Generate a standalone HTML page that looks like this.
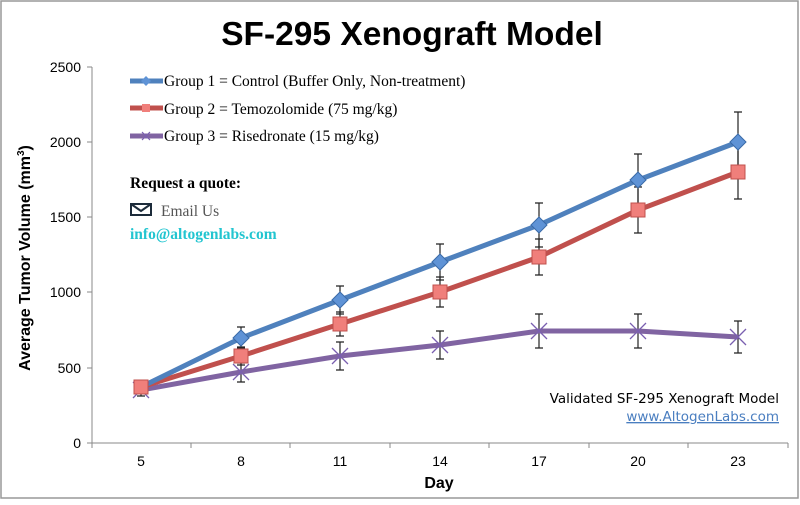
<!DOCTYPE html>
<html><head><style>body{margin:0;background:#fff}</style></head><body>
<svg width="800" height="500" viewBox="0 0 800 500" xmlns="http://www.w3.org/2000/svg">
<rect x="1" y="1" width="797" height="497" fill="#fff" stroke="#999" stroke-width="1.5"/>
<text x="412" y="45" text-anchor="middle" font-family="Liberation Sans, sans-serif" font-weight="bold" font-size="33.5">SF-295 Xenograft Model</text>
<g stroke="#888" stroke-width="1" fill="none">
<line x1="92" y1="67" x2="92" y2="443"/>
<line x1="92" y1="443" x2="788" y2="443"/>
<line x1="87" y1="67" x2="92" y2="67"/><line x1="87" y1="142" x2="92" y2="142"/><line x1="87" y1="217" x2="92" y2="217"/><line x1="87" y1="292" x2="92" y2="292"/><line x1="87" y1="368" x2="92" y2="368"/><line x1="87" y1="443" x2="92" y2="443"/>
<line x1="92" y1="443" x2="92" y2="448"/><line x1="191" y1="443" x2="191" y2="448"/><line x1="290" y1="443" x2="290" y2="448"/><line x1="390" y1="443" x2="390" y2="448"/><line x1="489" y1="443" x2="489" y2="448"/><line x1="589" y1="443" x2="589" y2="448"/><line x1="688" y1="443" x2="688" y2="448"/><line x1="788" y1="443" x2="788" y2="448"/>
</g>
<g font-family="Liberation Sans, sans-serif" font-size="14" text-anchor="end" fill="#000">
<text x="81" y="72">2500</text><text x="81" y="147">2000</text><text x="81" y="222">1500</text><text x="81" y="297">1000</text><text x="81" y="373">500</text><text x="81" y="448">0</text>
</g>
<g font-family="Liberation Sans, sans-serif" font-size="14" text-anchor="middle">
<text x="141" y="466">5</text><text x="241" y="466">8</text><text x="340" y="466">11</text><text x="440" y="466">14</text><text x="539" y="466">17</text><text x="638" y="466">20</text><text x="738" y="466">23</text>
</g>
<text x="439" y="488" text-anchor="middle" font-family="Liberation Sans, sans-serif" font-weight="bold" font-size="16">Day</text>
<text transform="translate(30,258) rotate(-90)" text-anchor="middle" font-family="Liberation Sans, sans-serif" font-weight="bold" font-size="16">Average Tumor Volume (mm<tspan font-size="10" dy="-6">3</tspan><tspan dy="6">)</tspan></text>
<g stroke="#222" stroke-width="1.2" fill="none">
<!-- blue -->
<path d="M241 327V348M237 327h8M237 348h8"/>
<path d="M340 286V314M336 286h8M336 314h8"/>
<path d="M440 244V280M436 244h8M436 280h8"/>
<path d="M539 203V247M535 203h8M535 247h8"/>
<path d="M638 154V206M634 154h8M634 206h8"/>
<path d="M738 112V172M734 112h8M734 172h8"/>
<!-- red -->
<path d="M141 383V392M137 383h8M137 392h8"/>
<path d="M241 347V365M237 347h8M237 365h8"/>
<path d="M340 312V336M336 312h8M336 336h8"/>
<path d="M440 277V307M436 277h8M436 307h8"/>
<path d="M539 239V275M535 239h8M535 275h8"/>
<path d="M638 187V233M634 187h8M634 233h8"/>
<path d="M738 145V199M734 145h8M734 199h8"/>
<!-- purple -->
<path d="M141 384V396M137 384h8M137 396h8"/>
<path d="M241 363V382M237 363h8M237 382h8"/>
<path d="M340 342V370M336 342h8M336 370h8"/>
<path d="M440 331V359M436 331h8M436 359h8"/>
<path d="M539 314V348M535 314h8M535 348h8"/>
<path d="M638 314V348M634 314h8M634 348h8"/>
<path d="M738 321V353M734 321h8M734 353h8"/>
</g>
<polyline fill="none" stroke="#8064a2" stroke-width="5" points="141,390 241,372 340,356 440,345 539,331 638,331 738,337"/>
<polyline fill="none" stroke="#c0504d" stroke-width="5" points="141,387 241,356 340,324 440,292 539,257 638,210 738,172"/>
<polyline fill="none" stroke="#4f81bd" stroke-width="5" points="141,387 241,338 340,300 440,262 539,225 638,180 738,142"/>
<g stroke="#7a5fb0" stroke-width="1.3">
<path d="M133 382l16 16M149 382l-16 16M233 364l16 16M249 364l-16 16M332 348l16 16M348 348l-16 16M432 337l16 16M448 337l-16 16M531 323l16 16M547 323l-16 16M630 323l16 16M646 323l-16 16M730 329l16 16M746 329l-16 16"/>
</g>
<g fill="#f07f7b" stroke="#c0504d" stroke-width="1">
<rect x="134" y="380" width="14" height="14"/><rect x="234" y="349" width="14" height="14"/><rect x="333" y="317" width="14" height="14"/><rect x="433" y="285" width="14" height="14"/><rect x="532" y="250" width="14" height="14"/><rect x="631" y="203" width="14" height="14"/><rect x="731" y="165" width="14" height="14"/>
</g>
<g fill="#5f93d6" stroke="#3a6aa8" stroke-width="1">
<path d="M241 330l8 8-8 8-8-8z M340 292l8 8-8 8-8-8z M440 254l8 8-8 8-8-8z M539 217l8 8-8 8-8-8z M638 172l8 8-8 8-8-8z M738 134l8 8-8 8-8-8z"/>
</g>
<g stroke-width="5">
<line x1="130" y1="81" x2="163" y2="81" stroke="#4f81bd"/>
<line x1="130" y1="108" x2="163" y2="108" stroke="#c0504d"/>
<line x1="130" y1="136" x2="163" y2="136" stroke="#8064a2"/>
</g>
<path d="M146 76l5 5-5 5-5-5z" fill="#5f93d6"/>
<rect x="142" y="104" width="8" height="8" fill="#f07f7b"/>
<path d="M142 132l8 8M150 132l-8 8" stroke="#7a5fb0" stroke-width="1.2"/>
<g font-family="Liberation Serif, serif" font-size="15.5">
<text x="164" y="86">Group 1 = Control (Buffer Only, Non-treatment)</text>
<text x="164" y="114">Group 2 = Temozolomide (75 mg/kg)</text>
<text x="164" y="141">Group 3 = Risedronate (15 mg/kg)</text>
<text x="130" y="188" font-weight="bold">Request a quote:</text>
<text x="161" y="216" fill="#555">Email Us</text>
<text x="130" y="239" font-weight="bold" fill="#22c5d0">info@altogenlabs.com</text>
</g>
<rect x="131" y="204" width="20" height="11" fill="none" stroke="#1c2b3a" stroke-width="2"/>
<path d="M131 204l10 7 10-7" fill="none" stroke="#1c2b3a" stroke-width="2"/>
<g font-family="DejaVu Sans, sans-serif" font-size="13.5" text-anchor="end">
<text x="779" y="403">Validated SF-295 Xenograft Model</text>
<text x="779" y="421" fill="#4a7ec0" text-decoration="underline">www.AltogenLabs.com</text>
</g>
</svg>
</body></html>
